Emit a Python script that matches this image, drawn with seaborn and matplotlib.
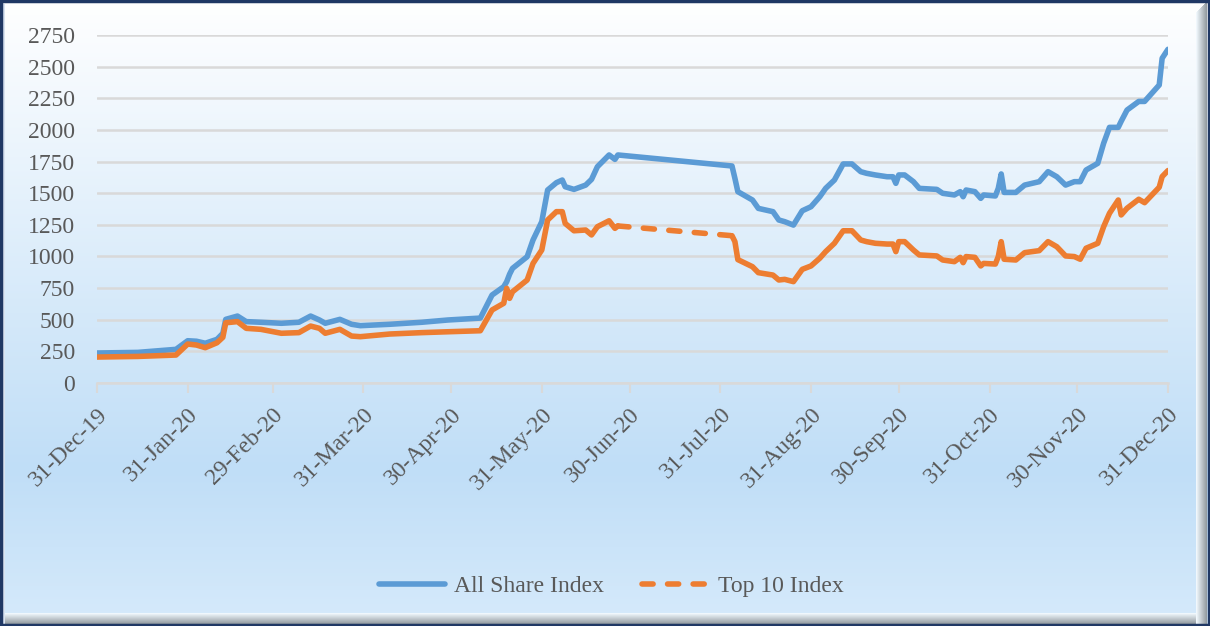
import numpy as np
import pandas as pd
import matplotlib
matplotlib.use("Agg")
import matplotlib.pyplot as plt
import matplotlib.dates as mdates
from matplotlib.patches import Rectangle
import seaborn as sns

# ---- data ----
DATES = [
    "2019-12-31", "2020-01-14", "2020-01-27", "2020-01-31", "2020-02-03", "2020-02-06",
    "2020-02-10", "2020-02-12", "2020-02-13", "2020-02-17", "2020-02-20", "2020-02-25",
    "2020-03-03", "2020-03-09", "2020-03-13", "2020-03-16", "2020-03-18", "2020-03-23",
    "2020-03-27", "2020-03-30", "2020-04-09", "2020-04-20", "2020-04-29", "2020-05-10",
    "2020-05-14", "2020-05-18", "2020-05-19", "2020-05-20", "2020-05-21", "2020-05-26",
    "2020-05-28", "2020-05-31", "2020-06-02", "2020-06-05", "2020-06-07", "2020-06-08",
    "2020-06-11", "2020-06-15", "2020-06-17", "2020-06-19", "2020-06-23", "2020-06-25",
    "2020-06-26",
    "2020-08-04", "2020-08-05", "2020-08-06", "2020-08-11", "2020-08-13", "2020-08-18",
    "2020-08-20", "2020-08-22", "2020-08-25", "2020-08-28", "2020-08-31", "2020-09-03",
    "2020-09-05", "2020-09-08", "2020-09-11", "2020-09-14", "2020-09-17", "2020-09-19",
    "2020-09-22", "2020-09-26", "2020-09-28", "2020-09-29", "2020-09-30", "2020-10-02",
    "2020-10-05", "2020-10-07", "2020-10-13", "2020-10-15", "2020-10-19", "2020-10-21",
    "2020-10-22", "2020-10-23", "2020-10-26", "2020-10-28", "2020-10-29", "2020-11-02",
    "2020-11-03", "2020-11-04", "2020-11-05", "2020-11-09", "2020-11-12", "2020-11-17",
    "2020-11-20", "2020-11-23", "2020-11-26", "2020-11-29", "2020-12-01", "2020-12-03",
    "2020-12-07", "2020-12-09", "2020-12-11", "2020-12-14", "2020-12-15", "2020-12-17",
    "2020-12-21", "2020-12-23", "2020-12-28", "2020-12-29", "2020-12-31",
]
ALL_SHARE = [
    237, 242, 266, 334, 330, 314,
    345, 392, 503, 529, 485, 480,
    472, 480, 529, 498, 472, 503,
    464, 453, 464, 480, 498, 513,
    695, 761, 800, 860, 906, 998,
    1130, 1275, 1525, 1583, 1604, 1551,
    1530, 1564, 1609, 1709, 1802, 1767,
    1802,
    1715, 1617, 1512, 1446, 1380, 1354,
    1288, 1275, 1248, 1361, 1393, 1472,
    1538, 1604, 1731, 1731, 1670, 1657,
    1644, 1630, 1630, 1578, 1644, 1644,
    1591, 1538, 1530, 1499, 1486, 1512,
    1472, 1525, 1512, 1459, 1486, 1478,
    1538, 1652, 1506, 1506, 1564, 1591,
    1670, 1630, 1564, 1591, 1591, 1683,
    1736, 1894, 2020, 2020, 2068, 2157,
    2225, 2225, 2355, 2566, 2637,
]
TOP10 = [
    205, 210, 221, 308, 300, 279,
    318, 361, 476, 485, 432, 424,
    393, 398, 450, 432, 393, 424,
    371, 366, 387, 398, 405, 413,
    577, 630, 748, 669, 721, 814,
    945, 1051, 1288, 1354, 1354, 1261,
    1203, 1209, 1170, 1235, 1282, 1222,
    1241,
    1164, 1117, 975, 919, 872, 853,
    814, 819, 801, 898, 925, 986,
    1038, 1104, 1203, 1203, 1130, 1117,
    1104, 1098, 1098, 1038, 1117, 1117,
    1051, 1012, 1004, 972, 959, 993,
    951, 999, 993, 925, 945, 940,
    999, 1117, 978, 972, 1030, 1046,
    1117, 1077, 1004, 999, 978, 1065,
    1104, 1235, 1341, 1446, 1328, 1381,
    1452, 1425, 1547, 1631, 1679,
]
GAP_START = "2020-06-26"   # no trading data between these two dates
GAP_END = "2020-08-04"
TICK_DATES = ["2019-12-31", "2020-01-31", "2020-02-29", "2020-03-31", "2020-04-30",
              "2020-05-31", "2020-06-30", "2020-07-31", "2020-08-31", "2020-09-30",
              "2020-10-31", "2020-11-30", "2020-12-31"]
Y_TICKS = list(range(0, 2751, 250))

BLUE = "#5B9BD5"
ORANGE = "#ED7D31"
TXT = "#595959"

df = pd.DataFrame({"date": pd.to_datetime(DATES), "all_share": ALL_SHARE, "top10": TOP10})
gs, ge = pd.Timestamp(GAP_START), pd.Timestamp(GAP_END)
before = df[df["date"] <= gs]
after = df[df["date"] >= ge]
gap = df[df["date"].isin([gs, ge])]

sns.set_theme(style="white")
plt.rcParams["font.family"] = ["Liberation Serif", "DejaVu Serif"]

fig = plt.figure(figsize=(12.1, 6.26), dpi=100)

# background gradient + frame
bg = fig.add_axes([0, 0, 1, 1], zorder=-10)
bg.set_axis_off()
h = 626
t = np.linspace(0, 1, h)[:, None]
top_c = np.array([1.0, 1.0, 1.0])
mid_c = np.array([192, 222, 247]) / 255
bot_c = np.array([214, 234, 251]) / 255
grad = np.where(t < 0.75, top_c + (mid_c - top_c) * (t / 0.75),
                mid_c + (bot_c - mid_c) * ((t - 0.75) / 0.25))
img = np.repeat(grad[:, None, :], 1210, axis=1).reshape(h, 1210, 3)
bg.imshow(img, extent=[0, 1210, 0, 626], aspect="auto", origin="upper")
# bevel on right and bottom, dark at the frame, fading inwards
for i in range(11):
    shade = 0.58 + 0.036 * i
    col = (min(shade, 1), min(shade + 0.03, 1), min(shade + 0.05, 1))
    bg.add_patch(Rectangle((1206 - i, 2), 1, 622 - i, color=col, lw=0))
    bg.add_patch(Rectangle((2, 2 + i), 1204 - i, 1, color=col, lw=0))
bg.add_patch(Rectangle((2, 2), 3, 620, color=(0.85, 0.89, 0.94), lw=0))
bg.add_patch(Rectangle((1, 1), 1208, 624, fill=False, ec="#203864", lw=2.5))
bg.set_xlim(0, 1210)
bg.set_ylim(0, 626)

ax = fig.add_axes([97 / 1210, 1 - 383 / 626, 1071 / 1210, 348 / 626])
ax.patch.set_alpha(0)

sns.lineplot(data=df, x="date", y="all_share", ax=ax, color=BLUE, lw=4.0,
             label="All Share Index", zorder=3)
sns.lineplot(data=before, x="date", y="top10", ax=ax, color=ORANGE, lw=4.0,
             label="_nolegend_", zorder=4)
sns.lineplot(data=after, x="date", y="top10", ax=ax, color=ORANGE, lw=4.0,
             label="_nolegend_", zorder=4)
sns.lineplot(data=gap, x="date", y="top10", ax=ax, color=ORANGE, lw=4.0,
             linestyle=(0, (2.0, 2.6)), dash_capstyle="round",
             label="Top 10 Index", zorder=4)

ax.set_xlim(pd.Timestamp(TICK_DATES[0]), pd.Timestamp(TICK_DATES[-1]))
ax.set_ylim(0, 2750)
ax.set_yticks(Y_TICKS)
ax.set_xticks(pd.to_datetime(TICK_DATES))
ax.xaxis.set_major_formatter(mdates.DateFormatter("%d-%b-%y"))
ax.grid(axis="y", color="#D9D9D9", lw=1.8, zorder=0)
for s in ["top", "right", "left"]:
    ax.spines[s].set_visible(False)
ax.spines["bottom"].set_color("#D9D9D9")
ax.spines["bottom"].set_linewidth(1.8)
ax.tick_params(axis="x", which="major", bottom=True, length=7, width=1.5, color="#D9D9D9",
               labelsize=17, labelcolor=TXT, pad=8)
ax.tick_params(axis="y", left=False, labelsize=17, labelcolor=TXT, pad=10)
plt.setp(ax.get_xticklabels(), rotation=45, ha="right", rotation_mode="anchor")
ax.set_xlabel("")
ax.set_ylabel("")

leg = ax.legend(loc="center", bbox_to_anchor=(0.48, -0.585), ncol=2, frameon=False,
                fontsize=17, handlelength=2.8, columnspacing=1.6, handletextpad=0.4)
for txt in leg.get_texts():
    txt.set_color(TXT)

fig.savefig("out.png", dpi=100)
